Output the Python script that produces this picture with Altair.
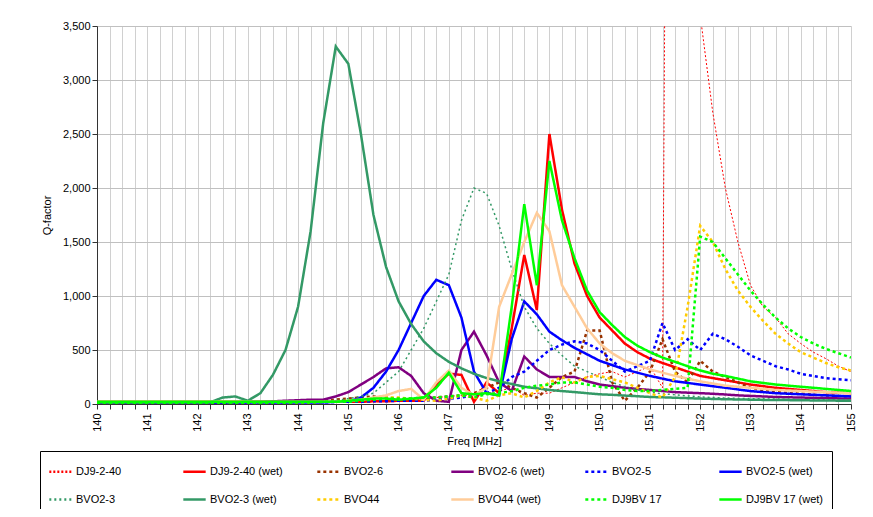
import altair as alt
import pandas as pd

freqs = [140 + 0.25 * i for i in range(61)]

names = ["DJ9-2-40", "DJ9-2-40 (wet)", "BVO2-6", "BVO2-6 (wet)", "BVO2-5", "BVO2-5 (wet)",
         "BVO2-3", "BVO2-3 (wet)", "BVO44", "BVO44 (wet)", "DJ9BV 17", "DJ9BV 17 (wet)"]
colors = ["#FF0000", "#FF0000", "#993300", "#800080", "#0000FF", "#0000FF",
          "#339966", "#339966", "#FFCC00", "#FFCC99", "#00FF00", "#00FF00"]
dashes = [[2, 2], [1, 0], [3, 3], [1, 0], [3, 3], [1, 0],
          [2, 3], [1, 0], [3, 3], [1, 0], [3, 3], [1, 0]]
widths = [1, 2.5, 2.5, 2.5, 2.5, 2.5, 1.5, 2.5, 2.5, 2.5, 2.5, 2.5]

dj9_240 = [10,10,10,10, 10,10,10,10, 10,10,10,10, 10,10,10,10, 15,15,15,20,
           20,20,20,25, 30,40,50,60, 70,80,80,100, 120,150,80,100, 100,150,200,250,
           280,300,250,300, 350,150,20000,10000, 3600,2700,2000,1500, 1100,900,800,650,
           560,480,420,350, 300]
dj9_240w = [20,20,20,20, 20,20,20,20, 20,20,20,20, 20,20,20,20, 20,20,20,20,
            20,20,25,25, 30,30,30,180, 280,270,20,200, 100,700,1380,870,
            2500,1800,1300,1000, 800,680,560,480, 420,380,340,300, 260,240,220,200,
            180,165,150,140, 130,120,110,105, 100]
bvo26 = [10,10,10,10, 10,10,10,10, 10,10,10,10, 10,10,10,10, 15,20,30,40,
         50,60,70,60, 50,40,50,60, 70,80,100,150, 200,150,100,60, 150,250,300,680,
         680,200,30,150, 300,600,300,200, 400,300,250,200, 150,130,115,100, 95,85,80,75, 70]
bvo26w = [15,15,15,15, 15,15,15,15, 15,15,15,15, 20,20,25,30, 35,40,40,70,
          110,180,250,330, 340,260,100,30, 20,500,670,450, 200,120,440,320,
          250,250,250,210, 180,165,150,140, 130,120,110,105, 100,95,88,80,
          75,70,65,62, 60,57,55,52, 50]
bvo25 = [10,10,10,10, 10,10,10,10, 10,10,10,10, 10,10,10,10, 10,10,15,20,
         20,20,25,25, 30,30,30,40, 50,60,80,100, 150,250,300,400, 500,550,580,560,
         500,400,300,350, 400,750,500,600, 500,650,600,530, 450,400,350,320,
         280,260,240,230, 220]
bvo25w = [15,15,15,15, 15,15,15,15, 15,15,15,15, 15,15,15,15, 15,15,15,20,
          20,60,150,300, 500,750,1000,1150, 1100,800,300,100, 80,600,950,830,
          670,590,520,460, 400,360,320,290, 260,235,210,195, 180,165,150,135,
          120,110,100,95, 90,85,80,75, 70]
bvo23 = [10,10,10,10, 10,10,10,10, 10,10,10,10, 10,10,10,10, 15,15,20,30,
         50,70,100,200, 300,500,700,950, 1200,1700,2000,1950, 1650,1250,900,700,
         560,450,350,300, 250,200,160,130, 110,95,85,75, 65,60,55,52, 50,48,46,44, 42,41,40,40, 40]
bvo23w = [15,15,15,15, 15,15,15,15, 15,15,60,70, 30,100,270,500, 900,1600,2600,3310,
          3150,2500,1750,1270, 950,740,580,470, 390,330,280,240, 210,185,160,145,
          130,120,110,100, 90,85,78,72, 65,62,58,54, 50,47,44,42, 40,38,37,36, 35,33,32,31, 30]
bvo44 = [10,10,10,10, 10,10,10,10, 10,10,10,10, 10,10,10,10, 15,15,20,20,
         30,40,50,60, 60,50,40,30, 50,80,60,30, 80,100,60,120, 200,250,200,250,
         260,230,200,150, 100,60,250,900, 1650,1500,1250,1050, 900,770,650,560,
         480,430,380,340, 310]
bvo44w = [20,20,20,20, 20,20,20,20, 20,20,20,20, 20,20,20,20, 20,20,20,20,
          30,40,60,80, 120,140,40,200, 310,150,80,150, 900,1200,1500,1770,
          1600,1100,900,700, 560,470,400,360, 320,290,260,235, 210,190,170,160,
          150,140,130,125, 120,115,110,105, 100]
djbv17 = [10,10,10,10, 10,10,10,10, 10,10,10,10, 10,10,10,10, 15,15,20,20,
          20,30,40,50, 50,50,60,60, 70,80,60,90, 100,120,150,170, 180,200,200,180,
          160,150,130,120, 120,130,140,150, 1550,1500,1350,1200, 1050,920,800,700,
          620,560,510,470, 430]
djbv17w = [20,20,20,20, 20,20,20,20, 20,20,20,20, 20,20,20,20, 20,20,20,20,
           30,40,50,50, 40,50,60,150, 290,100,90,100, 80,900,1850,1100,
           2250,1700,1350,1050, 850,730,620,540, 480,430,390,350, 310,280,260,235,
           210,195,180,170, 160,150,140,130, 120]

series = [dj9_240, dj9_240w, bvo26, bvo26w, bvo25, bvo25w,
          bvo23, bvo23w, bvo44, bvo44w, djbv17, djbv17w]

rows = []
for n, w, vals in zip(names, widths, series):
    for f, v in zip(freqs, vals):
        rows.append({"Freq": f, "Q": v, "Series": n, "W": w})
df = pd.DataFrame(rows)

chart = alt.Chart(df).mark_line(clip=True).encode(
    x=alt.X("Freq:Q", title="Freq [MHz]",
            scale=alt.Scale(domain=[140, 155], nice=False),
            axis=alt.Axis(values=freqs,
                          labelExpr="datum.value % 1 == 0 ? format(datum.value, 'd') : ''",
                          labelAngle=270, labelAlign="right", labelBaseline="middle",
                          gridColor="#d0d0d0", tickColor="#333", domainColor="#333",
                          labelPadding=4, titlePadding=4)),
    y=alt.Y("Q:Q", title="Q-factor",
            scale=alt.Scale(domain=[0, 3500], nice=False),
            axis=alt.Axis(values=list(range(0, 3501, 500)), format=",.0f",
                          gridColor="#c0c0c0", tickColor="#333", domainColor="#333",
                          titlePadding=10)),
    color=alt.Color("Series:N", sort=names, title=None,
                    scale=alt.Scale(domain=names, range=colors)),
    strokeDash=alt.StrokeDash("Series:N", sort=names, title=None,
                              scale=alt.Scale(domain=names, range=dashes)),
    strokeWidth=alt.StrokeWidth("W:Q", scale=None),
    order=alt.Order("Freq:Q"),
).properties(
    width=754, height=378,
    autosize=alt.AutoSizeParams(type="none"),
    padding={"left": 89, "top": 18, "right": 14, "bottom": 105},
).configure_legend(
    orient="none", legendX=-57, legendY=425, direction="horizontal", columns=6,
    symbolType="stroke", symbolSize=500, symbolStrokeWidth=2.5, labelOffset=3,
    strokeColor="black", padding=8, columnPadding=24, rowPadding=10,
    labelFontSize=11, labelFont="Liberation Sans", gridAlign="all",
).configure_axis(
    labelFont="Liberation Sans", titleFont="Liberation Sans",
    labelFontSize=11, titleFontSize=11, titleFontWeight="normal", labelColor="#000",
).configure_view(stroke=None)

chart.save("out.html", embed_options={"renderer": "svg", "actions": False})
